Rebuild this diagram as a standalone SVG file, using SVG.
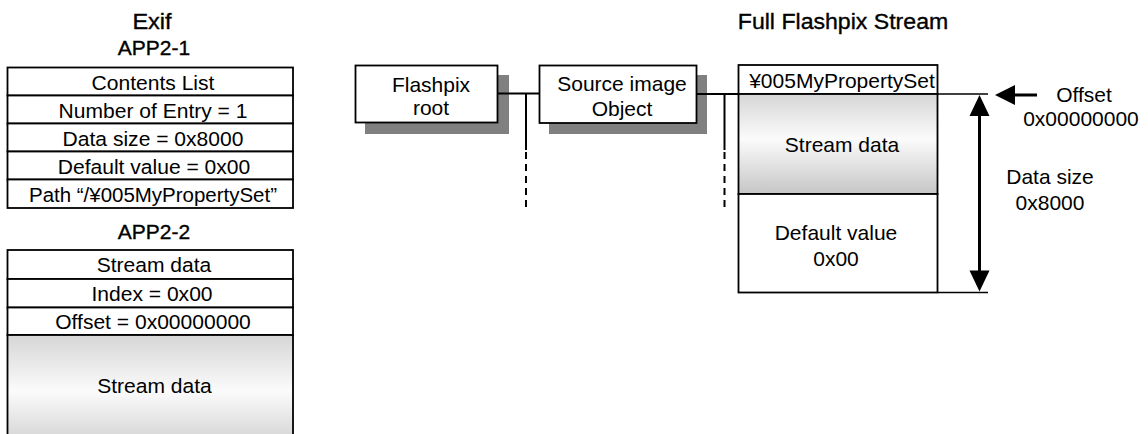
<svg xmlns="http://www.w3.org/2000/svg" width="1148" height="434" viewBox="0 0 1148 434">
<defs>
<style>
text { font-family: "Liberation Sans", Arial, sans-serif; fill: #000; text-anchor: middle; }
.h { font-size: 22px; stroke: #000; stroke-width: 0.35px; }
.h2 { font-size: 21px; stroke: #000; stroke-width: 0.35px; }
.t { font-size: 19.5px; }
.r { font-size: 21px; }
.cell { fill: #fff; stroke: #000; stroke-width: 1.8; }
.grad { fill: url(#sg); stroke: #000; stroke-width: 1.8; }
.shadow { fill: #808080; }
.ln { stroke: #000; stroke-width: 1.5; fill: none; }
.cn { stroke: #000; stroke-width: 2; fill: none; }
.dash { stroke: #000; stroke-width: 2; stroke-dasharray: 7 5; fill: none; }
.thick { stroke: #000; stroke-width: 3; fill: none; }
</style>
<linearGradient id="sg" x1="0" y1="0" x2="0" y2="1">
<stop offset="0" stop-color="#d6d6d6"/>
<stop offset="0.45" stop-color="#fbfbfb"/>
<stop offset="1" stop-color="#c6c6c6"/>
</linearGradient>
</defs>
<rect width="1148" height="434" fill="#fff"/>

<g id="titles">
<text class="h" x="0" y="29" transform="translate(152 0) scale(1.07 1)">Exif</text>
<text class="h2" x="154" y="55">APP2-1</text>
<text class="h2" x="154" y="239">APP2-2</text>
<text class="h" x="0" y="29" transform="translate(843 0) scale(1.05 1)">Full Flashpix Stream</text>
</g>

<g id="app2-1">
<rect class="cell" x="7.5" y="67.5" width="285.5" height="28"/>
<rect class="cell" x="7.5" y="95.5" width="285.5" height="28"/>
<rect class="cell" x="7.5" y="123.5" width="285.5" height="28"/>
<rect class="cell" x="7.5" y="151.5" width="285.5" height="28"/>
<rect class="cell" x="7.5" y="179.5" width="285.5" height="28.5"/>
<text class="t" x="0" y="90.5" transform="translate(153 0) scale(1.08 1)">Contents List</text>
<text class="t" x="0" y="118.5" transform="translate(153 0) scale(1.08 1)">Number of Entry = 1</text>
<text class="t" x="0" y="146.5" transform="translate(153 0) scale(1.08 1)">Data size = 0x8000</text>
<text class="t" x="0" y="174.5" transform="translate(154 0) scale(1.08 1)">Default value = 0x00</text>
<text class="t" x="0" y="202.5" transform="translate(153 0) scale(1.05 1)">Path “/¥005MyPropertySet”</text>
</g>

<g id="app2-2">
<rect class="cell" x="7.5" y="250" width="285.5" height="29"/>
<rect class="cell" x="7.5" y="279" width="285.5" height="28.5"/>
<rect class="cell" x="7.5" y="307.5" width="285.5" height="27.5"/>
<rect class="grad" x="7.5" y="335" width="285.5" height="125"/>
<text class="t" x="0" y="272.5" transform="translate(154 0) scale(1.08 1)">Stream data</text>
<text class="t" x="0" y="301" transform="translate(152 0) scale(1.08 1)">Index = 0x00</text>
<text class="t" x="0" y="329" transform="translate(153 0) scale(1.08 1)">Offset = 0x00000000</text>
<text class="t" x="0" y="393" transform="translate(154.5 0) scale(1.08 1)">Stream data</text>
</g>

<g id="flashpix-root">
<rect class="shadow" x="365" y="75" width="144" height="59"/>
<rect class="cell" x="355.5" y="65.5" width="142" height="57"/>
<text class="r" x="431" y="92">Flashpix</text>
<text class="r" x="431" y="115">root</text>
</g>

<g id="source-image-object">
<rect class="shadow" x="549" y="75" width="158" height="59"/>
<rect class="cell" x="539.5" y="65.5" width="157" height="57.5"/>
<text class="r" x="622" y="91">Source image</text>
<text class="r" x="622" y="116">Object</text>
</g>

<g id="property-set">
<rect class="cell" x="738.5" y="65" width="199" height="29"/>
<rect class="grad" x="738.5" y="94" width="199" height="100"/>
<rect class="cell" x="738.5" y="194" width="199" height="98.5"/>
<text class="r" x="842" y="88">¥005MyPropertySet</text>
<text class="r" x="842" y="151.5">Stream data</text>
<text class="r" x="836" y="240">Default value</text>
<text class="r" x="836" y="266">0x00</text>
</g>

<g id="connectors">
<line class="cn" x1="497.5" y1="93.5" x2="539.5" y2="93.5"/>
<line class="cn" x1="526" y1="93.5" x2="526" y2="150"/>
<line class="dash" x1="526" y1="152" x2="526" y2="208"/>
<line class="cn" x1="696.5" y1="94" x2="738.5" y2="94"/>
<line class="cn" x1="724.5" y1="94" x2="724.5" y2="150"/>
<line class="dash" x1="724.5" y1="152" x2="724.5" y2="208"/>
</g>

<g id="offset-marker">
<line class="ln" x1="937.5" y1="94" x2="988" y2="94"/>
<line class="ln" x1="937.5" y1="292.5" x2="988" y2="292.5"/>
<polygon points="995,95 1015,85 1015,105" fill="#000"/>
<line class="thick" x1="1013" y1="95" x2="1037" y2="95"/>
<text class="r" x="1084" y="101.5">Offset</text>
<text class="r" x="1081" y="126">0x00000000</text>
</g>

<g id="data-size-marker">
<line class="thick" x1="979.5" y1="112" x2="979.5" y2="274"/>
<polygon points="979.5,95 969.5,116 989.5,116" fill="#000"/>
<polygon points="979.5,291.5 969.5,270.5 989.5,270.5" fill="#000"/>
<text class="r" x="1050" y="184">Data size</text>
<text class="r" x="1050" y="210">0x8000</text>
</g>
</svg>
